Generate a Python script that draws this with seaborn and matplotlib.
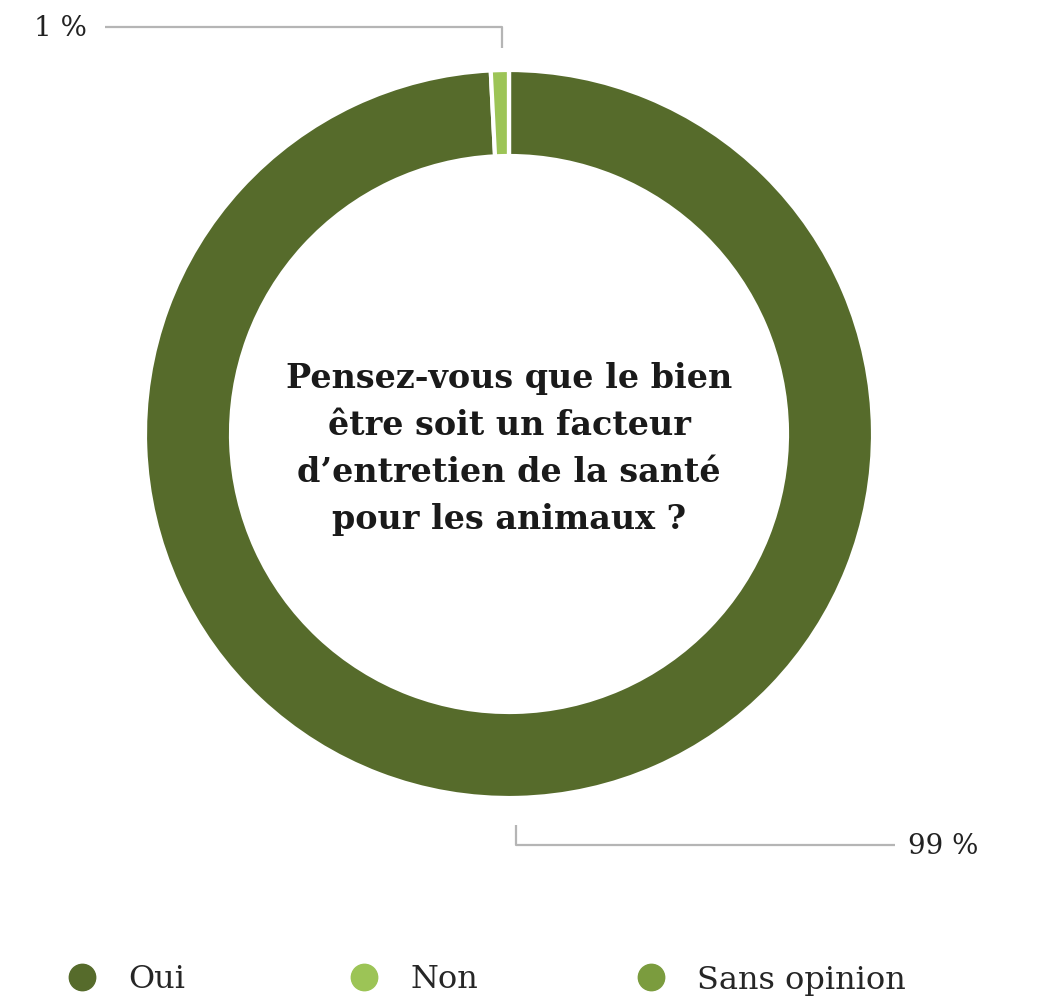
import matplotlib
matplotlib.use("Agg")
import matplotlib.pyplot as plt
import seaborn as sns
from matplotlib.lines import Line2D

# Data
categories = ["Oui", "Non", "Sans opinion"]
values = [99.2, 0.8, 0.0]
labels_pct = ["99 %", "1 %", ""]
colors = ["#566b2b", "#9cc456", "#7b9c3e"]
question = "Pensez-vous que le bien\nêtre soit un facteur\nd’entretien de la santé\npour les animaux ?"

sns.set_theme(style="white")
plt.rcParams["font.family"] = ["DejaVu Serif"]

W, H = 1044, 1000
fig = plt.figure(figsize=(W / 100, H / 100), dpi=100)
ax = fig.add_axes([0, 0, 1, 1])

# donut
cx, cy, r = 509, H - 434, 364
ax.pie(values, colors=colors, startangle=90, counterclock=False,
       radius=r, center=(cx, cy), frame=True,
       wedgeprops=dict(width=86, edgecolor="white", linewidth=3))
ax.set_xlim(0, W)
ax.set_ylim(0, H)
ax.axis("off")

ax.text(cx, H - 449, question, ha="center", va="center", fontsize=24,
        fontweight="bold", linespacing=1.55, color="#1a1a1a")

# leader lines and labels
line_kw = dict(color="#b5b5b5", lw=1.6, solid_capstyle="butt")
ax.plot([105, 502, 502], [H - 27, H - 27, H - 48], **line_kw)
ax.text(34, H - 29, labels_pct[1], ha="left", va="center", fontsize=20,
        color="#222222")
ax.plot([516, 516, 895], [H - 825, H - 845, H - 845], **line_kw)
ax.text(908, H - 847, labels_pct[0], ha="left", va="center", fontsize=20,
        color="#222222")

# legend, one entry per slot
slots = [66, 348, 635]
for cat, col, x in zip(categories, colors, slots):
    h = Line2D([0], [0], marker="o", ls="", markersize=19,
               markerfacecolor=col, markeredgecolor=col)
    fig.legend([h], [cat], loc="center left", bbox_to_anchor=(x / W, 1 - 980 / H),
               frameon=False, fontsize=23, handletextpad=0.95, handlelength=1.0,
               borderpad=0, borderaxespad=0)

fig.savefig("out.png", dpi=100, facecolor="white")
